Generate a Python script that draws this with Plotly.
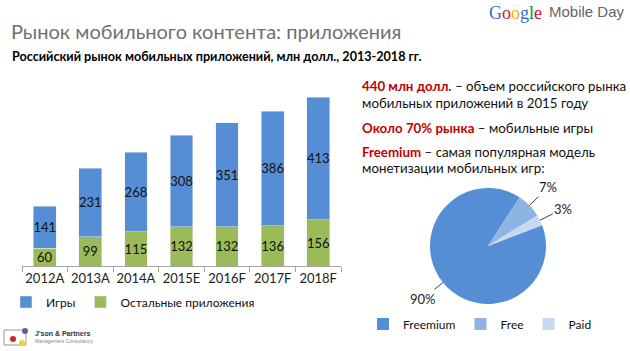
import math
import plotly.graph_objects as go

years = ["2012A", "2013A", "2014A", "2015E", "2016F", "2017F", "2018F"]
games = [141, 231, 268, 308, 351, 386, 413]
other = [60, 99, 115, 132, 132, 136, 156]

pie_labels = ["Freemium", "Free", "Paid"]
pie_values = [90, 7, 3]

BLUE = "#558ED5"
GREEN = "#9BBB59"
RED = "#C00000"
FONT = "Lato"
W, H = 630, 351

# pie geometry (pixels)
PCX, PCY, PR = 488, 246, 58
PIE_ROT = 69  # degrees clockwise from 12 o'clock


def px(x):
    return x / W


def py(y):
    return 1 - y / H


fig = go.Figure()
fig.add_trace(go.Bar(
    x=years, y=other, name="Остальные приложения", marker_color=GREEN,
    text=other, textposition="inside", insidetextanchor="middle", textangle=0,
    textfont=dict(color="#111", size=13, family=FONT), legend="legend",
    legendrank=2,
))
fig.add_trace(go.Bar(
    x=years, y=games, name="Игры", marker_color=BLUE,
    text=games, textposition="inside", insidetextanchor="middle", textangle=0,
    textfont=dict(color="#111", size=13, family=FONT), legend="legend",
    legendrank=1,
))
fig.add_trace(go.Pie(
    labels=pie_labels, values=pie_values, sort=False, direction="clockwise",
    rotation=PIE_ROT, marker=dict(colors=[BLUE, "#8EB4E3", "#C6D9F1"]),
    textinfo="none", hoverinfo="label+percent",
    domain=dict(x=[px(PCX - PR), px(PCX + PR)], y=[py(PCY + PR), py(PCY - PR)]),
    legend="legend2", showlegend=True,
))

fig.update_layout(
    width=W, height=H, margin=dict(l=0, r=0, t=0, b=0),
    paper_bgcolor="white", plot_bgcolor="white",
    barmode="stack", bargap=0.5,
    font=dict(family=FONT, color="#111"),
    uniformtext=dict(minsize=13, mode="show"),
    xaxis=dict(domain=[px(22), px(341)], showline=True, linecolor="#A6A6A6",
               ticks="outside", tickson="boundaries", ticklen=5, tickcolor="#A6A6A6",
               tickangle=0, tickfont=dict(size=13, color="#222"), showgrid=False),
    yaxis=dict(domain=[py(266), py(88)], range=[0, 600], visible=False),
    legend=dict(orientation="h", x=px(6), y=py(302), xanchor="left", yanchor="middle",
                font=dict(size=12), traceorder="normal", itemwidth=30,
                bgcolor="rgba(0,0,0,0)"),
    legend2=dict(orientation="h", x=px(480), y=py(324), xanchor="center", yanchor="middle",
                 font=dict(size=12), itemwidth=30, bgcolor="rgba(0,0,0,0)"),
    showlegend=True,
)

ann = []
ann.append(dict(x=px(9), y=py(31), xref="paper", yref="paper", xanchor="left", yanchor="middle",
                text="Рынок мобильного контента: приложения", showarrow=False,
                font=dict(size=20, color="#707070", family=FONT)))
ann.append(dict(x=px(10), y=py(56), xref="paper", yref="paper", xanchor="left", yanchor="middle",
                text="<b>Российский рынок мобильных приложений, млн долл., 2013-2018 гг.</b>", showarrow=False,
                font=dict(size=12.6, color="#000", family=FONT)))
google = ("<span style='color:#3369E8'>G</span><span style='color:#D50F25'>o</span>"
          "<span style='color:#EEB211'>o</span><span style='color:#3369E8'>g</span>"
          "<span style='color:#009925'>l</span><span style='color:#D50F25'>e</span>")
ann.append(dict(x=px(544), y=py(13), xref="paper", yref="paper", xanchor="right", yanchor="middle",
                text=google, showarrow=False, font=dict(size=18, family="Liberation Serif")))
ann.append(dict(x=px(627), y=py(12), xref="paper", yref="paper", xanchor="right", yanchor="middle",
                text="Mobile Day", showarrow=False, font=dict(size=15, color="#666", family="Liberation Sans")))

lines = [
    (86, f"<b><span style='color:{RED}'>440 млн долл.</span></b> – объем российского рынка"),
    (103, "мобильных приложений в 2015 году"),
    (128, f"<b><span style='color:{RED}'>Около 70% рынка</span></b> – мобильные игры"),
    (152, f"<b><span style='color:{RED}'>Freemium</span></b> – самая популярная модель"),
    (168, "монетизации мобильных игр:"),
]
for yy, t in lines:
    ann.append(dict(x=px(360), y=py(yy), xref="paper", yref="paper", xanchor="left", yanchor="middle",
                    text=t, showarrow=False, font=dict(size=13.3, color="#111", family=FONT)))

# pie percentage labels with leader lines, positioned from the data
total = sum(pie_values)
start = 90 - PIE_ROT
for lab, v in zip(pie_labels, pie_values):
    span = 360 * v / total
    mid = math.radians(start - span / 2)
    start -= span
    ex, ey = PCX + PR * math.cos(mid), PCY - PR * math.sin(mid)
    lx, ly = PCX + 1.45 * PR * math.cos(mid), PCY - 1.45 * PR * math.sin(mid)
    ann.append(dict(x=px(ex), y=py(ey), xref="paper", yref="paper",
                    ax=lx - ex, ay=ly - ey, showarrow=True, arrowhead=0,
                    arrowwidth=1, arrowcolor="#444", standoff=0,
                    text=f"{round(100 * v / total)}%",
                    font=dict(size=13, color="#222", family=FONT)))

ann.append(dict(x=px(33), y=py(333), xref="paper", yref="paper", xanchor="left", yanchor="middle",
                text="<b>J'son & Partners</b>", showarrow=False, font=dict(size=7, color="#333", family="Liberation Sans")))
ann.append(dict(x=px(33), y=py(341), xref="paper", yref="paper", xanchor="left", yanchor="middle",
                text="Management Consultancy", showarrow=False, font=dict(size=5, color="#888", family="Liberation Sans")))
fig.update_layout(annotations=ann)

fig.add_shape(type="rect", xref="paper", yref="paper", x0=px(4), x1=px(26), y0=py(345), y1=py(330),
              line=dict(color="#999", width=1), fillcolor="white")
fig.add_shape(type="circle", xref="paper", yref="paper", x0=px(10), x1=px(16), y0=py(342), y1=py(336),
              line=dict(width=0), fillcolor="#D0202E")
fig.add_shape(type="circle", xref="paper", yref="paper", x0=px(19), x1=px(25), y0=py(346), y1=py(340),
              line=dict(width=0), fillcolor="#F2D230")
fig.add_shape(type="circle", xref="paper", yref="paper", x0=px(22), x1=px(28), y0=py(334), y1=py(328),
              line=dict(width=0), fillcolor="#5560B0")

fig.write_html("out.html")
